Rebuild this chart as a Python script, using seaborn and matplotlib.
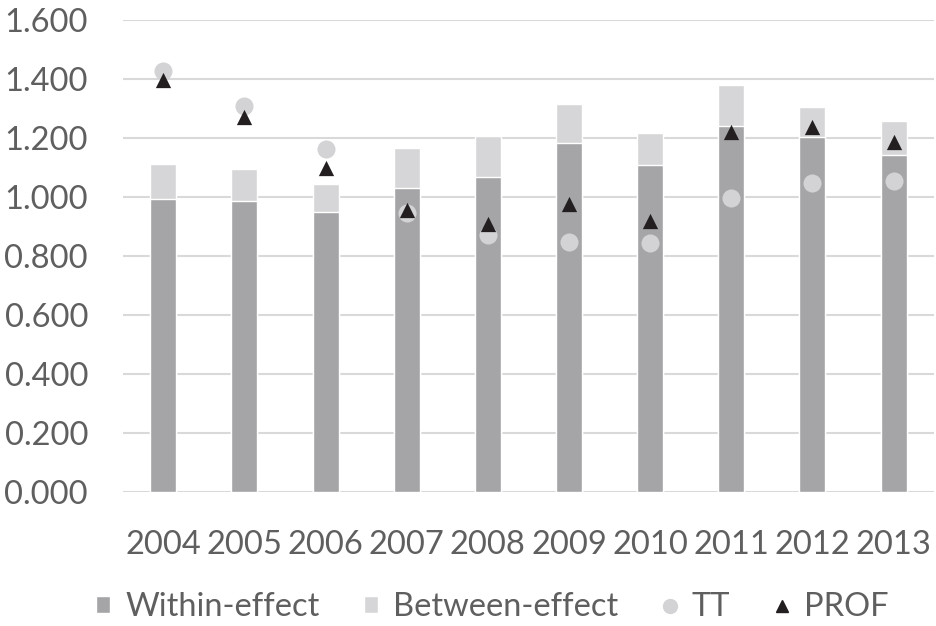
import pandas as pd
import seaborn as sns
import matplotlib.pyplot as plt
from matplotlib.patches import Patch
from matplotlib.lines import Line2D
from matplotlib.ticker import FuncFormatter

# Values
years = ["2004", "2005", "2006", "2007", "2008", "2009", "2010", "2011", "2012", "2013"]
within_effect = [0.994, 0.987, 0.950, 1.029, 1.069, 1.184, 1.109, 1.242, 1.204, 1.143]
between_effect = [0.118, 0.109, 0.095, 0.137, 0.138, 0.132, 0.109, 0.138, 0.102, 0.114]
tt = [1.427, 1.307, 1.162, 0.946, 0.872, 0.846, 0.844, 0.998, 1.046, 1.053]
prof = [1.397, 1.271, 1.097, 0.955, 0.907, 0.978, 0.920, 1.219, 1.238, 1.187]

df = pd.DataFrame({"year": years, "within": within_effect, "between": between_effect,
                   "TT": tt, "PROF": prof})
df["total"] = df["within"] + df["between"]

c_within = "#a5a5a7"
c_between = "#d6d6d8"
c_tt = "#d3d3d5"
c_prof = "#231f20"
text_col = "#5f5f5f"

sns.set_style("white")
plt.rcParams["font.family"] = ["Lato", "DejaVu Sans"]

fig = plt.figure(figsize=(9.37, 6.26), dpi=100)
ax = fig.add_axes([0.131, 0.214, 0.866, 0.754])

# Stacked bars: total (light) behind within (dark)
sns.barplot(data=df, x="year", y="total", color=c_between, saturation=1, width=0.32, ax=ax, zorder=2)
sns.barplot(data=df, x="year", y="within", color=c_within, saturation=1, width=0.32, ax=ax, zorder=3)

# Markers
sns.stripplot(data=df, x="year", y="TT", color=c_tt, size=13, jitter=False, linewidth=0, ax=ax, zorder=4)
sns.stripplot(data=df, x="year", y="PROF", color=c_prof, marker="^", size=11, jitter=False, linewidth=0, ax=ax, zorder=5)

ax.set_ylim(0, 1.6)
ax.set_yticks([i * 0.2 for i in range(9)])
ax.yaxis.set_major_formatter(FuncFormatter(lambda v, p: f"{v:.3f}"))
ax.set_xlim(-0.5, 9.5)
ax.grid(axis="y", color="#d9d9d9", linewidth=1.5, zorder=0)
ax.set_axisbelow(True)
for s in ax.spines.values():
    s.set_visible(False)
ax.set_xlabel("")
ax.set_ylabel("")
ax.tick_params(axis="both", length=0, labelsize=23.5, labelcolor=text_col)
ax.tick_params(axis="x", pad=27)
ax.tick_params(axis="y", pad=25)

handles = [
    Patch(facecolor=c_within, label="Within-effect"),
    Patch(facecolor=c_between, label="Between-effect"),
    Line2D([], [], marker="o", color=c_tt, linestyle="none", markersize=10, label="TT"),
    Line2D([], [], marker="^", color=c_prof, linestyle="none", markersize=8, label="PROF"),
]
leg = fig.legend(handles=handles, loc="center", bbox_to_anchor=(0.525, 0.03), ncol=4, frameon=False,
                 fontsize=23.5, handlelength=0.45, handleheight=0.45, handletextpad=0.45,
                 columnspacing=1.35, borderaxespad=0)
for t in leg.get_texts():
    t.set_color(text_col)

fig.savefig("out.png", dpi=100)
